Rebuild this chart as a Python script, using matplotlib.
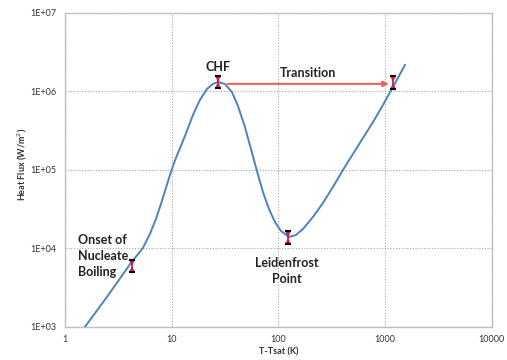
import matplotlib
matplotlib.use("Agg")
import matplotlib.pyplot as plt

# Boiling curve
dT = [1.539, 1.952, 2.475, 3.207, 4.156, 5.383, 6.261, 7.128, 7.942, 8.843,
      9.849, 10.97, 12.22, 13.91, 15.84, 18.42, 21.42, 24.39, 27.16, 31.59,
      36.74, 41.82, 48.64, 55.37, 63.01, 71.74, 81.65, 92.93, 105.8, 125.7,
      146.2, 170.1, 211.0, 261.8, 324.9, 403.0, 500.3, 620.7, 770.3, 955.7,
      1186, 1537]
q = [1000, 1553, 2411, 3969, 6536, 10150, 15300, 23760, 36890, 58980,
     94300, 142200, 202200, 314000, 501900, 779100, 1.076e6, 1.246e6, 1.321e6, 1.246e6,
     985400, 653600, 353000, 185100, 97100, 52460, 31860, 21760, 16710, 14010,
     14860, 17720, 25190, 37980, 60730, 100000, 159900, 255600, 406800, 673000,
     1.141e6, 2.175e6]

# Key points (markers)
pt_names = ["Onset", "CHF", "Leidenfrost", "Transition"]
pt_x = [4.24, 27.2, 123, 1186]
pt_y = [5980, 1.32e6, 1.38e4, 1.30e6]

xticks = [1, 10, 100, 1000, 10000]
xticklabels = ["1", "10", "100", "1000", "10000"]
yticks = [1e3, 1e4, 1e5, 1e6, 1e7]
yticklabels = ["1E+03", "1E+04", "1E+05", "1E+06", "1E+07"]

fig = plt.figure(figsize=(5.07, 3.6), dpi=100)
ax = fig.add_axes([0.128, 0.0917, 0.842, 0.8723])
ax.set_xscale("log")
ax.set_yscale("log")
ax.set_xlim(1, 10000)
ax.set_ylim(1e3, 1e7)

ax.grid(True, which="major", linestyle=(0, (1, 1.5)), color="#A6A6A6", linewidth=0.8)
ax.minorticks_off()
ax.set_xticks(xticks)
ax.set_xticklabels(xticklabels)
ax.set_yticks(yticks)
ax.set_yticklabels(yticklabels)
ax.tick_params(length=0, labelsize=6.5, colors="#333333", pad=6)
for lab in ax.get_xticklabels() + ax.get_yticklabels():
    lab.set_family("Lato")
for s in ax.spines.values():
    s.set_color("#BFBFBF")
    s.set_linewidth(1.0)

ax.plot(dT, q, color="#4F81BD", linewidth=1.4, zorder=3, solid_joinstyle="round")

# Transition arrow from CHF to film boiling
ax.annotate("", xy=(1088, 1.25e6), xytext=(33.5, 1.25e6),
            arrowprops=dict(arrowstyle="-|>", color="#F06060", lw=1.5,
                            mutation_scale=8, shrinkA=0, shrinkB=0), zorder=4)

# Markers: red hourglass with black caps
f = 10 ** 0.08
h = 10 ** 0.04
for x, y in zip(pt_x, pt_y):
    ax.plot([x, x], [y / f, y * f], color="#C0143C", linewidth=1.2, zorder=5)
    ax.plot([x], [y * h], linestyle="none", marker="v", color="#D0203C",
            markersize=4, markeredgewidth=0, zorder=5)
    ax.plot([x], [y / h], linestyle="none", marker="^", color="#D0203C",
            markersize=4, markeredgewidth=0, zorder=5)
    ax.plot([x, x], [y / f, y * f], linestyle="none", marker="_", color="black",
            markersize=4.5, markeredgewidth=1.5, zorder=6)

tk = dict(family="Lato", fontweight="bold", fontsize=9, color="#222222")
ax.text(pt_x[1], 1.74e6, "CHF", ha="center", va="bottom", **tk)
ax.text(103.5, 1.44e6, "Transition", ha="left", va="bottom", **tk)
ax.text(1.324, 8000, "Onset of\nNucleate\nBoiling", ha="left", va="center",
        linespacing=1.4, **tk)
ax.text(121, 5170, "Leidenfrost\nPoint", ha="center", va="center",
        linespacing=1.4, **tk)

ax.set_xlabel("T-Tsat (K)", family="Lato", fontweight="bold", fontsize=6.5,
              color="#333333", labelpad=2)
ax.set_ylabel("Heat Flux (W/m$^2$)", family="Lato", fontweight="bold", fontsize=6.5,
              color="#333333")
ax.yaxis.set_label_coords(-0.085, 0.519)

fig.savefig("out.png", dpi=100, facecolor="white")
